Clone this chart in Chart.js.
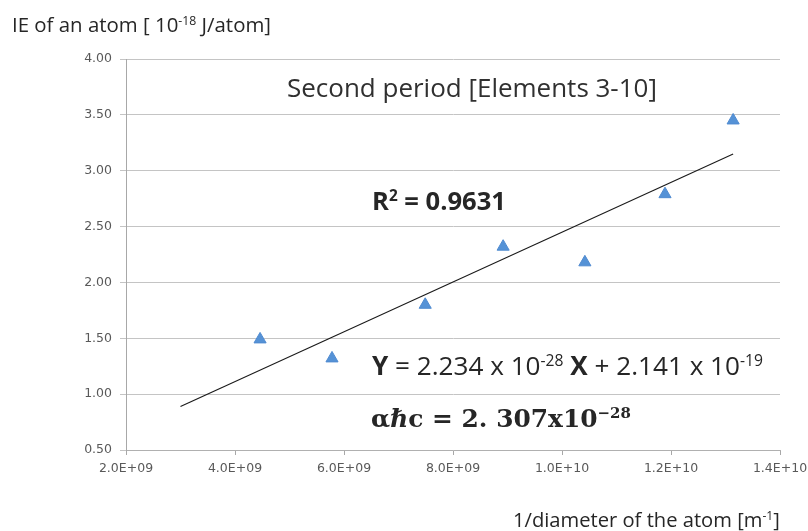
<!DOCTYPE html>
<html lang="en">
<head>
<meta charset="UTF-8">
<title>IE vs 1/diameter - second period</title>
<script src="https://cdn.jsdelivr.net/npm/chart.js"></script>
<style>
  body { margin: 0; background: #fff; }
  #wrap { width: 808px; height: 531px; }
</style>
</head>
<body>
<div id="wrap"><canvas id="ieChart" width="808" height="531"></canvas></div>
<script>
// values
const invDiameter = [4.46e9, 5.78e9, 7.49e9, 8.92e9, 1.042e10, 1.189e10, 1.314e10]; // m^-1
const ionEnergy = [1.49, 1.32, 1.80, 2.32, 2.18, 2.79, 3.45];                    // 10^-18 J/atom
// trendline as drawn (two ends)
const fitX = [3.0e9, 1.314e10];
const fitY = [0.89, 3.15];
const xTickLabels = ['2.0E+09', '4.0E+09', '6.0E+09', '8.0E+09', '1.0E+10', '1.2E+10', '1.4E+10'];
const yTickLabels = ['0.50', '1.00', '1.50', '2.00', '2.50', '3.00', '3.50', '4.00'];

const titleText = 'Second period [Elements 3-10]';
const r2Text = '0.9631';

const pts = invDiameter.map((x, i) => ({ x: x, y: ionEnergy[i] }));
const fit = fitX.map((x, i) => ({ x: x, y: fitY[i] }));

// rich text: parts with bold / italic / superscript, squeezed to a given width
function partFont(p, size, fam) {
    const s = p.sup ? size * 0.6 : size;
    return (p.i ? 'italic ' : '') + (p.b ? 'bold ' : '') + s.toFixed(2) + 'px ' + fam;
}
function richWidth(ctx, parts, size, fam) {
    let w = 0;
    parts.forEach(p => { ctx.font = partFont(p, size, fam); w += ctx.measureText(p.t).width; });
    return w;
}
function drawRich(ctx, n) {
    const size = 20 * n.w / richWidth(ctx, n.parts, 20, n.fam);
    let x = n.x;
    ctx.fillStyle = n.color || '#262626';
    ctx.textBaseline = 'alphabetic';
    ctx.textAlign = 'left';
    n.parts.forEach(p => {
        ctx.font = partFont(p, size, n.fam);
        ctx.fillText(p.t, x, p.sup ? n.y - size * 0.36 : n.y);
        x += ctx.measureText(p.t).width;
    });
}

const notes = [
    { x: 12, y: 32, w: 259, fam: '"Open Sans"', parts: [{ t: 'IE of an atom [ 10' }, { t: '-18', sup: 1 }, { t: ' J/atom]' }] },
    { x: 287, y: 97, w: 370, fam: '"Open Sans"', color: '#303030', parts: [{ t: titleText }] },
    { x: 372, y: 210, w: 134, fam: '"Open Sans"', parts: [{ t: 'R', b: 1 }, { t: '2', b: 1, sup: 1 }, { t: ' = ' + r2Text, b: 1 }] },
    { x: 372, y: 375, w: 391, fam: '"Open Sans"', parts: [
        { t: 'Y', b: 1 }, { t: ' = 2.234 x 10' }, { t: '-28', sup: 1 }, { t: ' ' },
        { t: 'X', b: 1 }, { t: ' + 2.141 x 10' }, { t: '-19', sup: 1 }] },
    { x: 371, y: 427, w: 260, fam: '"DejaVu Serif"', parts: [
        { t: 'α', b: 1 }, { t: 'ℏ', b: 1, i: 1 }, { t: 'c = 2. 307x10', b: 1 }, { t: '−28', b: 1, sup: 1 }] },
    { x: 513, y: 527, w: 267, fam: '"Open Sans"', parts: [{ t: '1/diameter of the atom [m' }, { t: '-1', sup: 1 }, { t: ']' }] }
];

const textPlugin = {
    id: 'richText',
    afterDraw(chart) {
        const ctx = chart.ctx;
        ctx.save();
        notes.forEach(n => drawRich(ctx, n));
        ctx.restore();
    }
};

const tickFont = { family: '"DejaVu Sans"', size: 12.5 };

new Chart(document.getElementById('ieChart'), {
    type: 'scatter',
    data: {
        datasets: [
            {
                label: 'IE',
                data: pts,
                pointStyle: 'triangle',
                pointRadius: 7,
                pointHoverRadius: 7,
                backgroundColor: '#5592d6',
                borderColor: '#4f8ad0',
                borderWidth: 1
            },
            {
                label: 'fit',
                data: fit,
                showLine: true,
                pointRadius: 0,
                borderColor: '#1a1a1a',
                borderWidth: 1.1,
                fill: false
            }
        ]
    },
    options: {
        responsive: false,
        animation: false,
        layout: { padding: { top: 59, right: 28, left: 0, bottom: 0 } },
        plugins: {
            legend: { display: false },
            tooltip: { enabled: false }
        },
        scales: {
            x: {
                type: 'linear',
                min: 2e9,
                max: 1.4e10,
                afterFit: s => { s.height = 81; s.paddingLeft = 0; s.paddingRight = 0; },
                ticks: {
                    stepSize: 2e9,
                    color: '#595959',
                    font: tickFont,
                    padding: 6,
                    maxRotation: 0,
                    callback: (v, i) => xTickLabels[i]
                },
                grid: { drawOnChartArea: false, drawTicks: true, tickLength: 5, color: '#a8a8a8' },
                border: { display: true, color: '#b0b0b0' }
            },
            y: {
                min: 0.5,
                max: 4,
                afterFit: s => { s.width = 126; },
                ticks: {
                    stepSize: 0.5,
                    color: '#595959',
                    font: tickFont,
                    padding: 8,
                    callback: (v, i) => yTickLabels[i]
                },
                grid: { color: '#c4c4c4', tickLength: 6 },
                border: { display: true, color: '#a8a8a8' }
            }
        }
    },
    plugins: [textPlugin]
});
</script>
</body>
</html>
